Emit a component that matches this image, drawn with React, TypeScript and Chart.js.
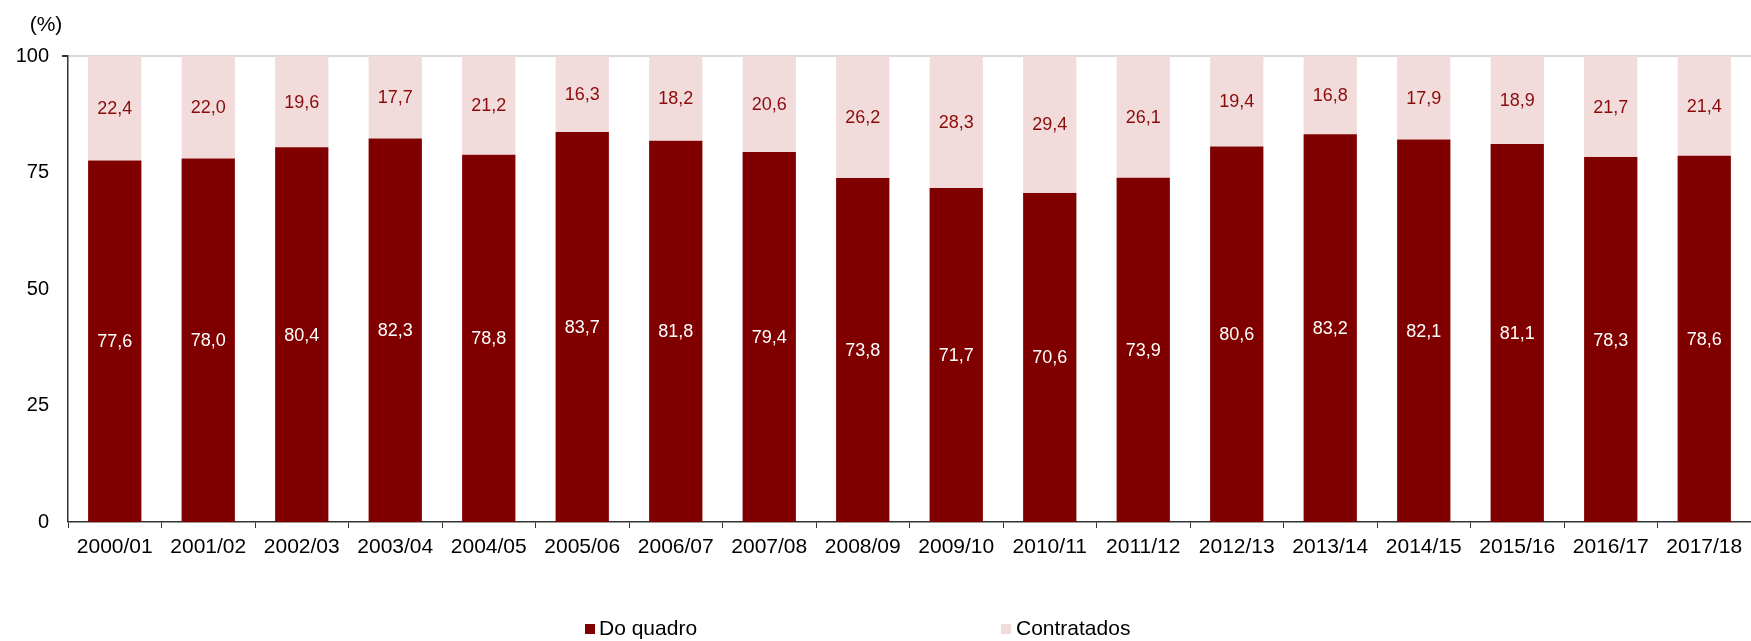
import React, { useEffect, useRef } from "react";
import { Chart, registerables } from "chart.js";

Chart.register(...registerables);

const categories = [
  "2000/01", "2001/02", "2002/03", "2003/04", "2004/05", "2005/06",
  "2006/07", "2007/08", "2008/09", "2009/10", "2010/11", "2011/12",
  "2012/13", "2013/14", "2014/15", "2015/16", "2016/17", "2017/18",
];
const doQuadro = [77.6, 78.0, 80.4, 82.3, 78.8, 83.7, 81.8, 79.4, 73.8, 71.7, 70.6, 73.9, 80.6, 83.2, 82.1, 81.1, 78.3, 78.6];
const contratados = [22.4, 22.0, 19.6, 17.7, 21.2, 16.3, 18.2, 20.6, 26.2, 28.3, 29.4, 26.1, 19.4, 16.8, 17.9, 18.9, 21.7, 21.4];
const yTicks = [0, 25, 50, 75, 100];
const seriesNames = ["Do quadro", "Contratados"];

const DARK = "#800000";
const LIGHT = "#F2DCDB";
const FONT = "'Liberation Sans', Arial, sans-serif";

const fmt = (v: number) => v.toFixed(1).replace(".", ",");

const labelsPlugin = {
  id: "segLabels",
  afterDatasetsDraw(chart: any) {
    const ctx = chart.ctx;
    ctx.save();
    ctx.font = `18px ${FONT}`;
    ctx.textAlign = "center";
    ctx.textBaseline = "middle";
    chart.data.datasets.forEach((ds: any, i: number) => {
      const meta = chart.getDatasetMeta(i);
      meta.data.forEach((bar: any, j: number) => {
        const top = bar.y;
        const bottom = bar.base;
        ctx.fillStyle = i === 0 ? "#ffffff" : "#8B0A0A";
        ctx.fillText(fmt(ds.data[j]), bar.x, (top + bottom) / 2 + 1);
      });
    });
    ctx.restore();
  },
};

const extrasPlugin = {
  id: "extras",
  afterDraw(chart: any) {
    const ctx = chart.ctx;
    ctx.save();
    ctx.fillStyle = "#000";
    ctx.font = `21px ${FONT}`;
    ctx.textAlign = "center";
    ctx.textBaseline = "middle";
    ctx.fillText("(%)", 46, 25);
    // legend
    ctx.textAlign = "left";
    const items = [
      { x: 585, tx: 599, color: DARK, text: seriesNames[0] },
      { x: 1001, tx: 1016, color: LIGHT, text: seriesNames[1] },
    ];
    items.forEach((it) => {
      ctx.fillStyle = it.color;
      ctx.fillRect(it.x, 624, 10, 10);
      ctx.fillStyle = "#000";
      ctx.fillText(it.text, it.tx, 629);
    });
    ctx.restore();
  },
};

export default function App() {
  const ref = useRef<HTMLCanvasElement | null>(null);
  useEffect(() => {
    if (!ref.current) return;
    const chart = new Chart(ref.current, {
      type: "bar",
      data: {
        labels: categories,
        datasets: [
          {
            label: seriesNames[0],
            data: doQuadro,
            backgroundColor: DARK,
            barPercentage: 0.57,
            categoryPercentage: 1,
          },
          {
            label: seriesNames[1],
            data: contratados,
            backgroundColor: LIGHT,
            barPercentage: 0.57,
            categoryPercentage: 1,
          },
        ],
      },
      options: {
        responsive: false,
        animation: false,
        maintainAspectRatio: false,
        layout: { padding: { top: 56, left: 0, right: 0, bottom: 0 } },
        plugins: {
          legend: { display: false },
          tooltip: { enabled: false },
        },
        scales: {
          x: {
            stacked: true,
            grid: {
              display: true,
              drawOnChartArea: false,
              drawTicks: true,
              tickLength: 6,
              tickColor: "#333",
              offset: true,
            },
            border: { display: true, color: "#333", width: 1.5 },
            ticks: {
              color: "#000",
              font: { family: FONT, size: 21 },
              padding: 7,
              maxRotation: 0,
              autoSkip: false,
            },
            afterFit: (s: any) => {
              s.height = 641 - 522;
            },
          },
          y: {
            stacked: true,
            min: 0,
            max: 100,
            afterBuildTicks: (s: any) => {
              s.ticks = yTicks.map((v) => ({ value: v }));
            },
            grid: {
              display: true,
              drawTicks: true,
              tickLength: 6,
              tickColor: "#333",
              color: (c: any) => (c.tick && c.tick.value === 100 ? "#d9d9d9" : "rgba(0,0,0,0)"),
              lineWidth: (c: any) => (c.tick && c.tick.value === 100 ? 2 : 0),
            },
            border: { display: true, color: "#333", width: 1.5 },
            ticks: {
              color: "#000",
              font: { family: FONT, size: 20 },
              padding: 13,
            },
            afterFit: (s: any) => {
              s.width = 68;
            },
          },
        },
      },
      plugins: [labelsPlugin, extrasPlugin],
    });
    return () => chart.destroy();
  }, []);
  return (
    <div style={{ position: "fixed", left: 0, top: 0, width: 1751, height: 641, background: "#fff" }}>
      <canvas ref={ref} width={1751} height={641} style={{ width: 1751, height: 641 }} />
    </div>
  );
}
